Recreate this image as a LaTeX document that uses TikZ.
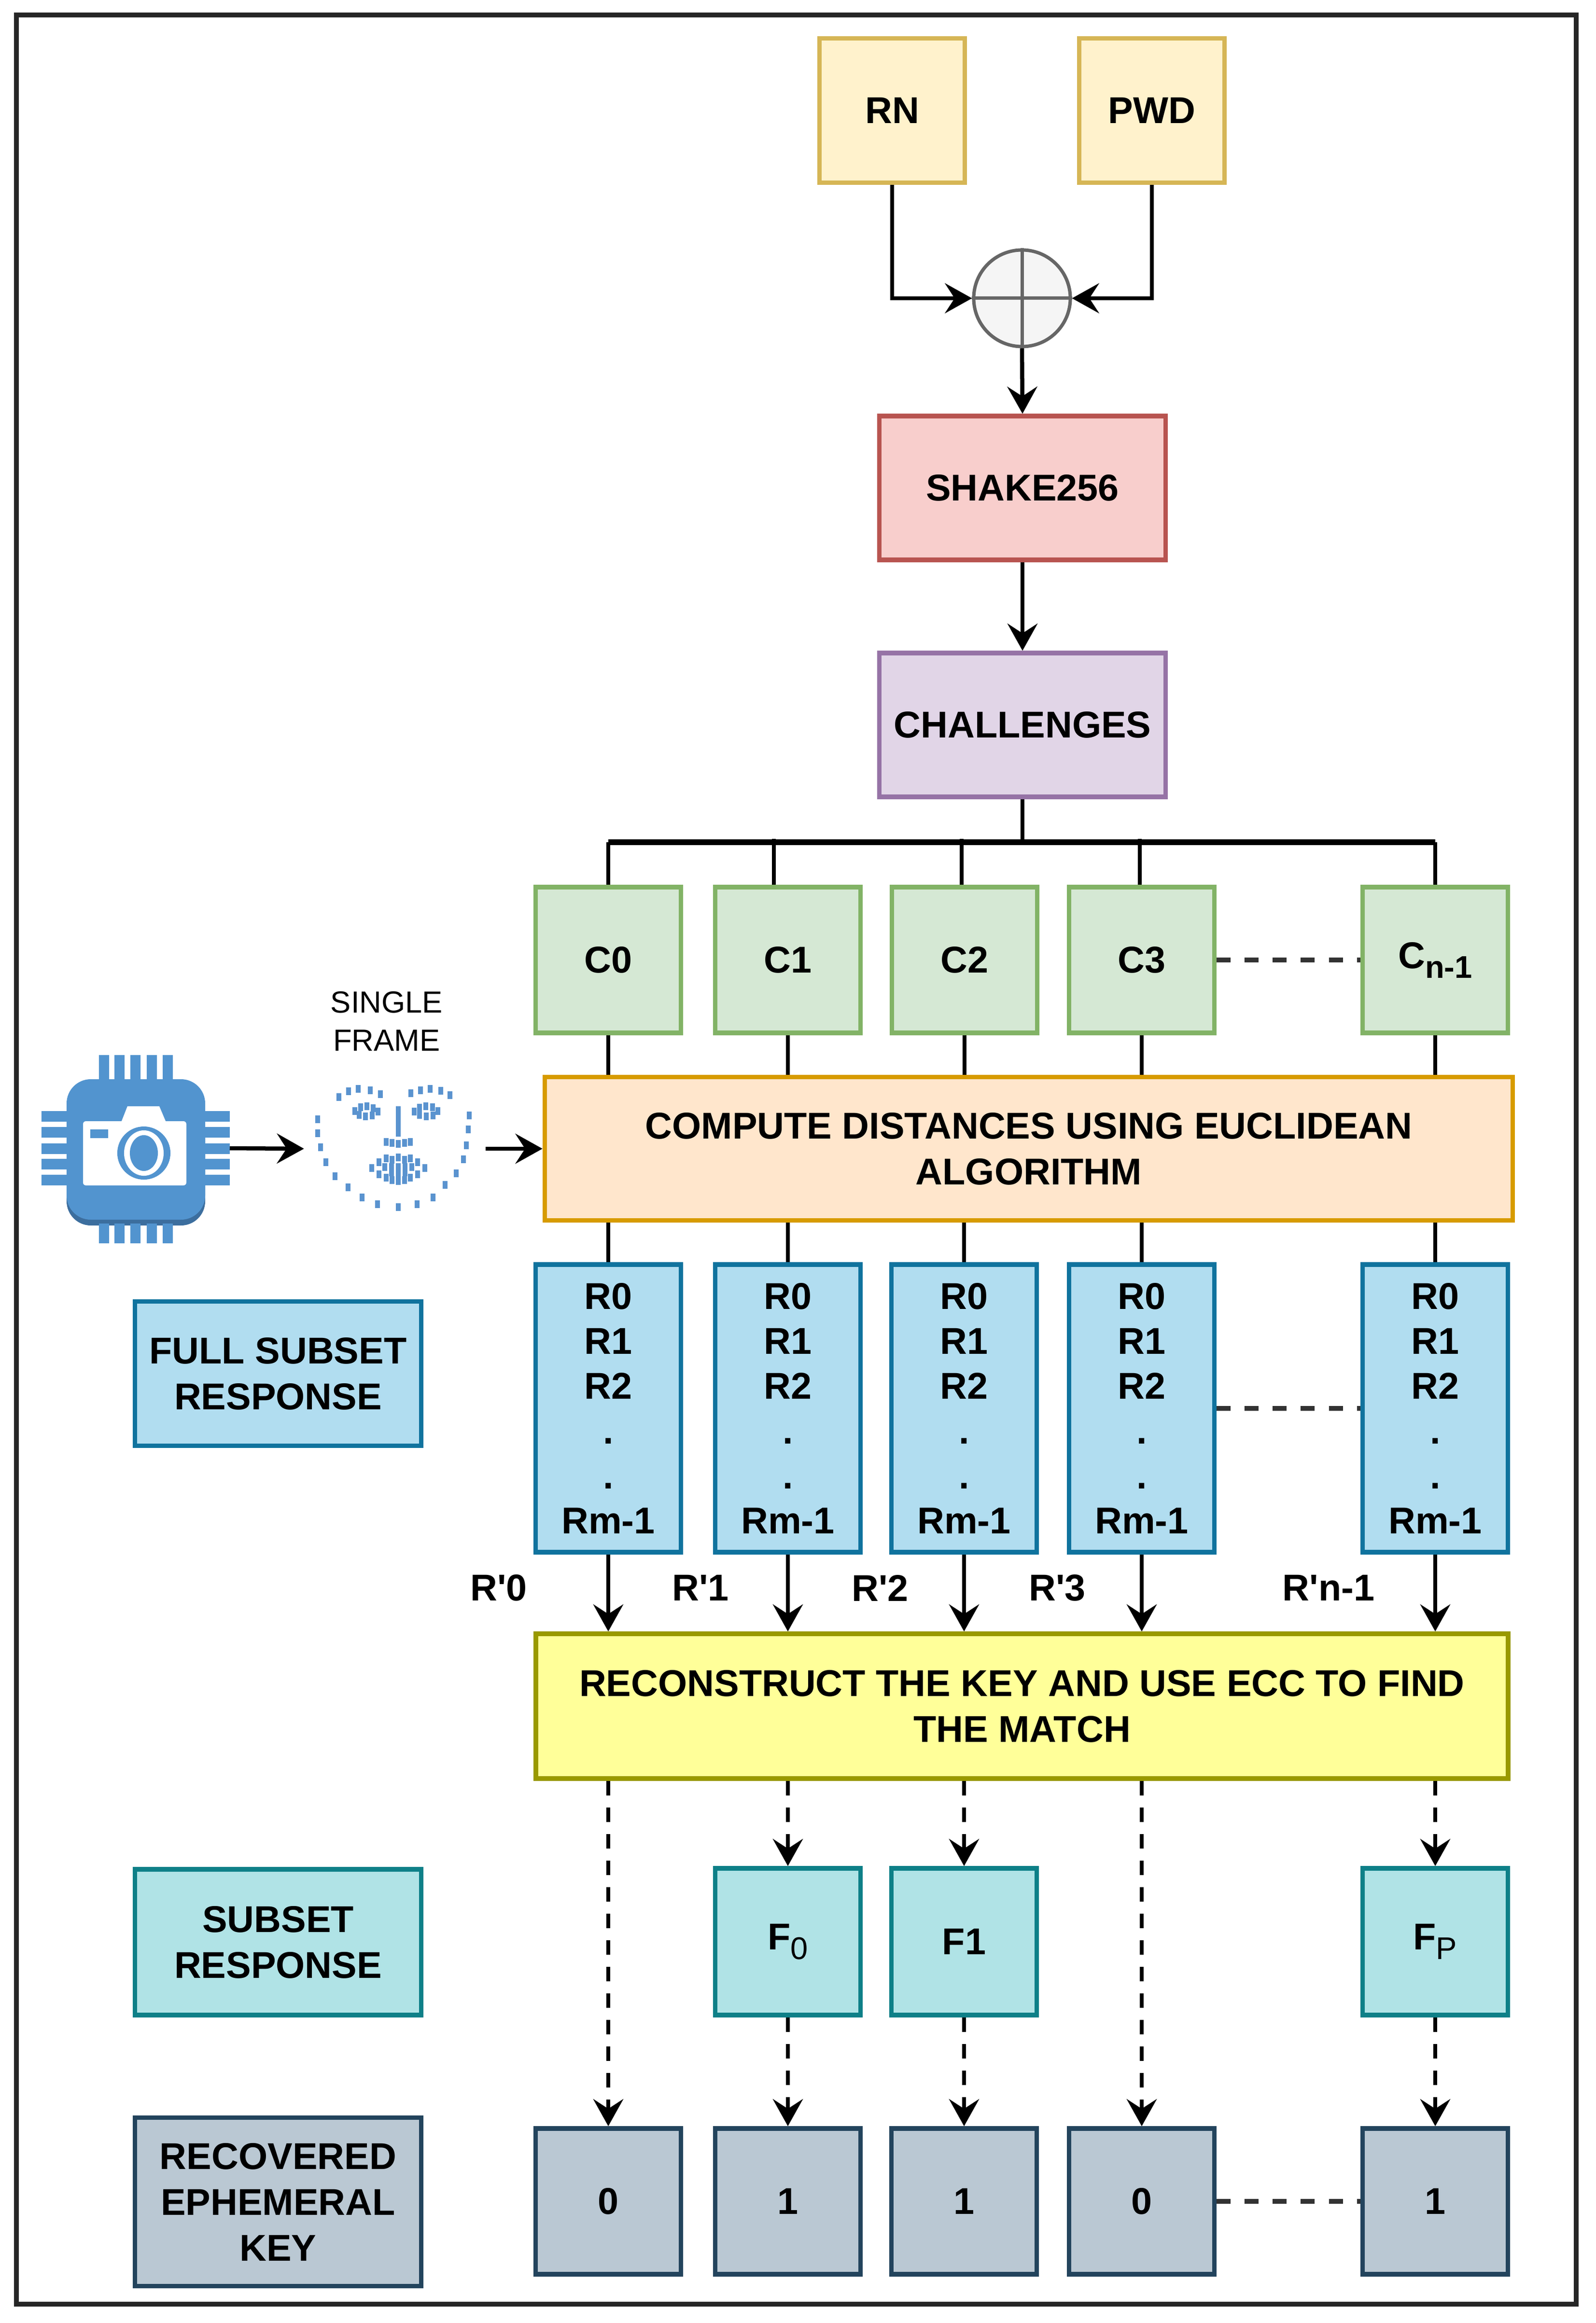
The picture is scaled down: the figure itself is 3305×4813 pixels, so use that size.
\documentclass[tikz,border=0pt]{standalone}
\usepackage{fontspec}
\setmainfont{Liberation Sans}
\usetikzlibrary{arrows.meta,calc}
\definecolor{yelF}{HTML}{FFF2CC}\definecolor{yelS}{HTML}{D6B656}
\definecolor{redF}{HTML}{F8CECC}\definecolor{redS}{HTML}{B85450}
\definecolor{purF}{HTML}{E1D5E7}\definecolor{purS}{HTML}{9673A6}
\definecolor{grnF}{HTML}{D5E8D4}\definecolor{grnS}{HTML}{82B366}
\definecolor{orgF}{HTML}{FFE6CC}\definecolor{orgS}{HTML}{D79B00}
\definecolor{bluF}{HTML}{B1DDF0}\definecolor{bluS}{HTML}{10739E}
\definecolor{ylwF}{HTML}{FFFF99}\definecolor{ylwS}{HTML}{999900}
\definecolor{tealF}{HTML}{B0E3E6}\definecolor{tealS}{HTML}{0E8088}
\definecolor{gryF}{HTML}{BAC8D3}\definecolor{gryS}{HTML}{23445D}
\definecolor{xorF}{HTML}{F5F5F5}\definecolor{xorS}{HTML}{666666}
\definecolor{camblue}{HTML}{5294CF}\definecolor{camdark}{HTML}{3C6E9E}
\definecolor{facedot}{HTML}{5A93CF}
\newcommand\lbl{\fontsize{22pt}{27pt}\selectfont\bfseries}
\newcommand\lblR{\fontsize{22pt}{26.4pt}\selectfont\bfseries}
\newcommand\subtx[1]{\raisebox{-0.2cm}{\fontsize{18.5pt}{18.5pt}\selectfont #1}}
\begin{document}
\begin{tikzpicture}[x=0.01cm,y=-0.01cm,
  bx/.style n args={2}{draw=#2, fill=#1, line width=0.095cm, inner sep=0pt, align=center, font=\lbl},
  colbox/.style={minimum width=3.01cm},
  widebox/.style={minimum width=5.93cm},
  conn/.style={line width=0.085cm, black},
  busl/.style={line width=0.12cm, black},
  arrw/.style={conn, -{Stealth[length=0.56cm,width=0.62cm,inset=0.2cm]}},
  darrw/.style={arrw, dash pattern=on 0.3cm off 0.25cm},
  dotl/.style={line width=0.1cm, black!80, dash pattern=on 0.29cm off 0.29cm},
  rlab/.style={font=\lbl, inner sep=0pt}
]
\useasboundingbox (0,0) rectangle (3305,4813);
\draw[line width=0.1cm, black!85] (34,31) rectangle (3265,4774);

% top inputs
\node[bx={yelF}{yelS}, colbox, minimum height=2.99cm] (rn) at (1848,229) {RN};
\node[bx={yelF}{yelS}, colbox, minimum height=2.99cm] (pwd) at (2386,229) {PWD};
\node[circle, draw=xorS, fill=xorF, line width=0.07cm, minimum size=2cm, inner sep=0pt] (xor) at (2117,618) {};
\draw[xorS, line width=0.07cm] (xor.north) -- (xor.south) (xor.west) -- (xor.east);
\node[bx={redF}{redS}, widebox, minimum height=2.98cm] (shake) at (2118,1011) {SHAKE256};
\node[bx={purF}{purS}, widebox, minimum height=2.98cm] (chal) at (2118,1502) {CHALLENGES};

\draw[arrw] (rn.south) |- (xor.west);
\draw[arrw] (pwd.south) |- (xor.east);
\draw[arrw] (xor.south) -- (shake.north);
\draw[arrw] (shake.south) -- (chal.north);

% challenges
\foreach \n/\x/\t in {c0/1260/C0, c1/1632/C1, c2/1998/C2, c3/2365/C3}
  \node[bx={grnF}{grnS}, colbox, minimum height=3.02cm] (\n) at (\x,1989) {\t};
\node[bx={grnF}{grnS}, colbox, minimum height=3.02cm] (cn) at (2973,1989) {C\subtx{n-1}};

\coordinate (bus) at (2118,1745);
\draw[conn] (chal.south) -- (bus);
\draw[busl] (c0.north |- bus) -- (cn.north |- bus);
\draw[conn] (c0.north) -- (c0.north |- bus);
\draw[conn] ([xshift=-0.29cm]c1.north) -- ++(0,-95);
\draw[conn] ([xshift=-0.06cm]c2.north) -- ++(0,-95);
\draw[conn] ([xshift=-0.04cm]c3.north) -- ++(0,-95);
\draw[conn] (cn.north) -- (cn.north |- bus);
\draw[dotl] (c3.east) -- (cn.west);

% compute
\node[bx={orgF}{orgS}, minimum width=20.04cm, minimum height=2.97cm] (comp) at (2131,2380)
  {COMPUTE DISTANCES USING EUCLIDEAN\\ALGORITHM};
\foreach \n in {c0,c1,c2,c3,cn}
  \draw[conn] (\n.south) -- (\n.south |- comp.north);

% camera icon
\fill[camdark, rounded corners=0.5cm] (138,2300) rectangle (425,2539);
\fill[camblue, rounded corners=0.5cm] (138,2236) rectangle (425,2527);
\foreach \x in {205,237,270,304,337} {
  \fill[camblue] (\x,2186) rectangle (\x+21,2238);
  \fill[camblue] (\x,2535) rectangle (\x+21,2576);
}
\foreach \y in {2302,2335,2369,2401,2434} {
  \fill[camblue] (86,\y) rectangle (140,\y+22);
  \fill[camblue] (423,\y) rectangle (476,\y+22);
}
\fill[white, rounded corners=0.06cm] (172,2323) rectangle (386,2456);
\fill[white] (251,2325) -- (264,2292) -- (330,2292) -- (344,2325) -- cycle;
\fill[camblue] (187,2340) rectangle (224,2358);
\fill[camblue] (298,2389) circle[radius=0.55cm];
\fill[white] (298,2389) ellipse[x radius=0.41cm, y radius=0.47cm];
\fill[camblue] (298,2389) ellipse[x radius=0.29cm, y radius=0.37cm];
\coordinate (camE) at (476,2379);

% face landmarks
\foreach \x/\y in {658/2319,658/2348,664/2377,675/2408,694/2437,721/2460,750/2481,782/2495,825/2501,
  864/2495,897/2481,922/2455,945/2431,960/2402,966/2373,970/2340,972/2311,
  702/2273,722/2261,742/2256,767/2259,788/2267,
  851/2265,871/2259,891/2256,913/2260,932/2269,
  735/2302,747/2294,760/2292,773/2296,783/2303,771/2311,757/2313,744/2310,
  858/2303,869/2295,882/2292,896/2294,907/2302,897/2311,883/2313,869/2310,
  825/2300,825/2316,825/2331,825/2347,
  800/2366,812/2368,825/2370,838/2368,850/2366,
  770/2420,785/2408,800/2400,812/2403,825/2398,838/2403,850/2400,865/2408,880/2420,
  865/2433,850/2440,838/2445,825/2447,812/2445,800/2440,785/2433,
  797/2418,811/2418,825/2418,839/2418,853/2418,811/2429,825/2431,839/2429}
  \fill[facedot] (\x-5,\y-8) rectangle (\x+5,\y+8);
\node[minimum width=3.75cm, minimum height=2.9cm, inner sep=0pt] (face) at (818,2380) {};
\node[font=\fontsize{18pt}{22.5pt}\selectfont, align=center, inner sep=0pt] (sf) at (801,2116) {SINGLE\\FRAME};
\draw[arrw] (camE) -- (face.west);
\draw[arrw] (face.east) -- (face.east -| comp.west);

% responses
\foreach \n/\x in {r0/1260, r1/1632, r2/1997, r3/2365, rn/2973}
  \node[bx={bluF}{bluS}, colbox, minimum height=5.96cm, font=\lblR] (\n) at (\x,2918) {R0\\R1\\R2\\.\\.\\Rm-1};
\foreach \n in {r0,r1,r2,r3,rn}
  \draw[conn] (\n.north |- comp.south) -- (\n.north);
\draw[dotl] (r3.east) -- (rn.west);
\node[bx={bluF}{bluS}, widebox, minimum height=2.99cm] (full) at (576,2846) {FULL SUBSET\\RESPONSE};

% reconstruct
\node[bx={ylwF}{ylwS}, minimum width=20.13cm, minimum height=3.0cm] (rec) at (2117,3535)
  {RECONSTRUCT THE KEY AND USE ECC TO FIND\\THE MATCH};
\foreach \n in {r0,r1,r2,r3,rn}
  \draw[arrw] (\n.south) -- (\n.south |- rec.north);
\node[rlab] (l0) at (1033,3290) {R\textquotesingle0};
\node[rlab] (l1) at (1451,3290) {R\textquotesingle1};
\node[rlab] (l2) at (1823,3290) {R\textquotesingle2};
\node[rlab] (l3) at (2190,3290) {R\textquotesingle3};
\node[rlab] (ln) at (2752,3290) {R\textquotesingle n-1};

% subset response
\node[bx={tealF}{tealS}, widebox, minimum height=3.02cm] (sub) at (576,4024) {SUBSET\\RESPONSE};
\node[bx={tealF}{tealS}, colbox, minimum height=3.04cm] (f0) at (1632,4023) {F\subtx{\mdseries 0}};
\node[bx={tealF}{tealS}, colbox, minimum height=3.04cm] (f1) at (1997,4023) {F1};
\node[bx={tealF}{tealS}, colbox, minimum height=3.04cm] (fp) at (2973,4023) {F\subtx{\mdseries P}};

% recovered key
\foreach \n/\x/\t in {b0/1260/0, b1/1632/1, b2/1997/1, b3/2365/0, bn/2973/1}
  \node[bx={gryF}{gryS}, colbox, minimum height=3.02cm] (\n) at (\x,4561) {\t};
\node[bx={gryF}{gryS}, widebox, minimum height=3.49cm] (key) at (576,4562) {RECOVERED\\EPHEMERAL\\KEY};
\draw[dotl] (b3.east) -- (bn.west);

% dashed arrows
\draw[darrw] (b0.north |- rec.south) -- (b0.north);
\draw[darrw] (f0.north |- rec.south) -- (f0.north);
\draw[darrw] (f1.north |- rec.south) -- (f1.north);
\draw[darrw] (b3.north |- rec.south) -- (b3.north);
\draw[darrw] (fp.north |- rec.south) -- (fp.north);
\draw[darrw] (f0.south) -- (b1.north);
\draw[darrw] (f1.south) -- (b2.north);
\draw[darrw] (fp.south) -- (bn.north);
\end{tikzpicture}
\end{document}
